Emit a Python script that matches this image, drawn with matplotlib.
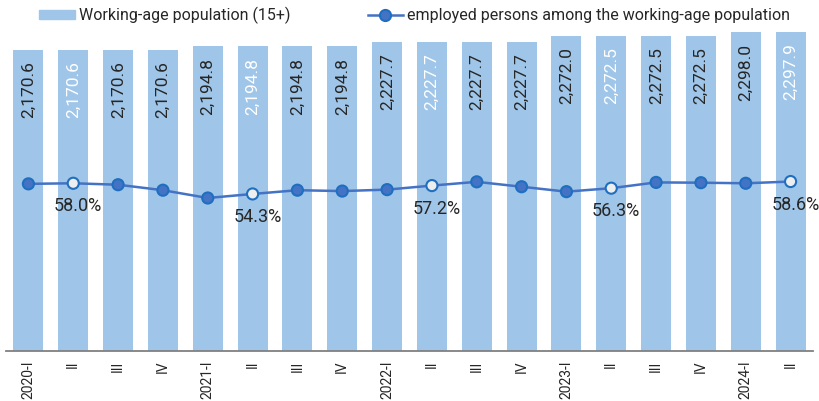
import matplotlib.pyplot as plt
import numpy as np
from matplotlib.lines import Line2D
from matplotlib.patches import Patch

plt.rcParams['font.family'] = ['Roboto', 'DejaVu Sans']

# quarters
quarters = ['2020-I', 'II', 'III', 'IV', '2021-I', 'II', 'III', 'IV',
            '2022-I', 'II', 'III', 'IV', '2023-I', 'II', 'III', 'IV',
            '2024-I', 'II']
# working-age population (15+), thousands
population = [2170.6, 2170.6, 2170.6, 2170.6, 2194.8, 2194.8, 2194.8, 2194.8,
              2227.7, 2227.7, 2227.7, 2227.7, 2272.0, 2272.5, 2272.5, 2272.5,
              2298.0, 2297.9]
# employment rate, %
employed_pct = [57.8, 58.0, 57.5, 55.6, 52.9, 54.3, 55.6, 55.3, 55.8,
                57.2, 58.5, 56.8, 55.1, 56.3, 58.3, 58.2, 58.0, 58.6]
# quarters whose labels are highlighted
highlight = [1, 5, 9, 13, 17]

bar_color = '#9fc5e8'
line_color = '#4472c4'
marker_edge = '#1f6fc0'
dark = '#262626'

fig = plt.figure(figsize=(8.2, 4.01), dpi=100)
ax = fig.add_axes([6 / 820, 1 - 350.7 / 401, 807 / 820, 320.7 / 401])

x = np.arange(len(quarters))
ax.bar(x, population, width=0.667, color=bar_color, zorder=1)
ax.set_xlim(-0.5, len(quarters) - 0.5)
ax.set_ylim(0, 2312.6)

for i, v in enumerate(population):
    col = 'white' if i in highlight else dark
    ax.annotate(f'{v:,.1f}', (i, v), xytext=(0, -11.5), textcoords='offset pixels',
                rotation=90, ha='center', va='top', fontsize=12.5, color=col)

for s in ['top', 'left', 'right']:
    ax.spines[s].set_visible(False)
ax.spines['bottom'].set_color('#808080')
ax.spines['bottom'].set_linewidth(1.3)
ax.set_yticks([])
ax.set_xticks(x)
ax.set_xticklabels(quarters, rotation=90, fontsize=10, color=dark)
ax.tick_params(axis='x', length=0, pad=7)

ax2 = ax.twinx()
ax2.set_ylim(0, 111.1)
ax2.axis('off')
ax2.plot(x, employed_pct, color=line_color, lw=1.8, zorder=2)
face = ['#eeeeee' if i in highlight else line_color for i in x]
ax2.scatter(x, employed_pct, s=64, c=face, edgecolors=marker_edge,
            linewidths=1.5, zorder=3)
for i in highlight:
    ax2.annotate(f'{employed_pct[i]:.1f}%', (i, employed_pct[i]), xytext=(5, -23),
                 textcoords='offset pixels', ha='center', va='center',
                 fontsize=13, color=dark)

handles = [Patch(color=bar_color),
           Line2D([], [], color=line_color, lw=1.8, marker='o', markersize=8,
                  markerfacecolor=line_color, markeredgecolor=marker_edge,
                  markeredgewidth=1.5)]
fig.legend(handles, ['Working-age population (15+)',
                     'employed persons among the working-age population'],
           loc='center', bbox_to_anchor=(0.506, 0.962), ncol=2, frameon=False,
           fontsize=11.5, handlelength=2.2, handleheight=0.5, handletextpad=0.3,
           columnspacing=4.8, labelcolor=dark)

fig.savefig('out.png', dpi=100)
